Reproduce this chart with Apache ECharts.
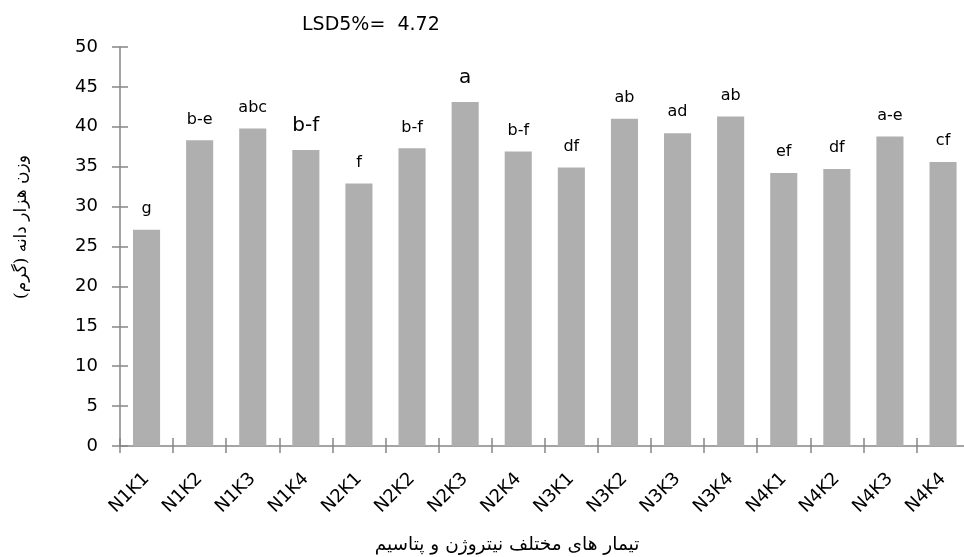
<!DOCTYPE html>
<html><head><meta charset="utf-8">
<script src="https://cdn.jsdelivr.net/npm/echarts@6/dist/echarts.min.js"></script>
<style>html,body{margin:0;padding:0;background:#fff}#c{width:964px;height:557px}</style>
</head><body><div id="c"></div>
<script>
const categories = ['N1K1','N1K2','N1K3','N1K4','N2K1','N2K2','N2K3','N2K4','N3K1','N3K2','N3K3','N3K4','N4K1','N4K2','N4K3','N4K4'];
const values = [27.1, 38.3, 39.8, 37.1, 32.9, 37.3, 43.1, 36.9, 34.9, 41.0, 39.2, 41.3, 34.2, 34.7, 38.8, 35.6];
const letters = ['g','b-e','abc','b-f','f','b-f','a','b-f','df','ab','ad','ab','ef','df','a-e','cf'];
const yTicks = [0, 5, 10, 15, 20, 25, 30, 35, 40, 45, 50];
const lsdText = 'LSD5%=  4.72';
const yTitle = 'وزن هزار دانه (گرم)';
const xTitle = 'تیمار های مختلف نیتروژن و پتاسیم';
const largeIdx = [3, 6];

const chart = echarts.init(document.getElementById('c'), null, {renderer: 'canvas'});
const axisColor = '#868686';
const FONT = 'DejaVu Sans';
const data = values.map((v, i) => {
  const item = {value: v};
  if (largeIdx.includes(i)) item.label = {fontSize: 20, distance: 14};
  return item;
});
chart.setOption({
  animation: false,
  grid: {left: 120, top: 47, bottom: 111, width: 849.6, containLabel: false, outerBoundsMode: 'none'},
  xAxis: [
    {type: 'category', data: categories, boundaryGap: true, position: 'bottom',
     axisLine: {lineStyle: {color: axisColor, width: 1.5}},
     axisTick: {show: false},
     axisLabel: {show: true, rotate: 45, fontSize: 18, color: '#000', margin: 30, fontFamily: FONT, interval: 0, hideOverlap: false}},
    {type: 'category', data: categories, boundaryGap: true, position: 'bottom', offset: -8,
     axisLine: {show: false},
     axisTick: {show: true, inside: false, length: 15, lineStyle: {color: axisColor, width: 1.5}},
     axisLabel: {show: false}}
  ],
  yAxis: [
    {type: 'value', min: yTicks[0], max: yTicks[yTicks.length - 1], interval: yTicks[1] - yTicks[0],
     axisLine: {show: true, lineStyle: {color: axisColor, width: 1.5}},
     axisTick: {show: false},
     axisLabel: {fontSize: 18, color: '#000', margin: 22, fontFamily: FONT},
     splitLine: {show: false}},
    {type: 'value', min: yTicks[0], max: yTicks[yTicks.length - 1], interval: yTicks[1] - yTicks[0], position: 'left', offset: -8,
     axisLine: {show: false},
     axisTick: {show: true, inside: false, length: 16, lineStyle: {color: axisColor, width: 1.5}},
     axisLabel: {show: false}, splitLine: {show: false}}
  ],
  series: [{
    type: 'bar', data: data, barWidth: '51%', xAxisIndex: 0, yAxisIndex: 0,
    itemStyle: {color: '#afafaf'},
    label: {show: true, position: 'top', distance: 13, fontSize: 16, color: '#000', fontFamily: FONT,
      formatter: p => letters[p.dataIndex]}
  }],
  graphic: [
    {type: 'text', x: 302, y: 25, style: {text: lsdText, fontSize: 19, fill: '#000', fontFamily: FONT, verticalAlign: 'middle'}},
    {type: 'text', x: 22, y: 227, rotation: Math.PI / 2,
     style: {text: yTitle, fontSize: 17, fill: '#000', fontFamily: 'DejaVu Serif, DejaVu Sans', align: 'center', verticalAlign: 'middle'}},
    {type: 'text', x: 507, y: 545,
     style: {text: xTitle, fontSize: 18.5, fill: '#000', fontFamily: 'DejaVu Serif, DejaVu Sans', align: 'center', verticalAlign: 'middle'}}
  ]
});
</script></body></html>
